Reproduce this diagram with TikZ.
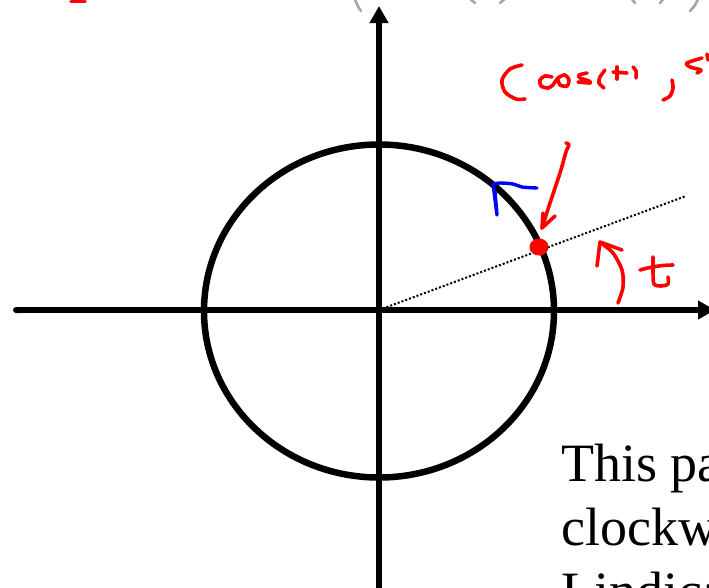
\documentclass[tikz,border=0pt]{standalone}
\usepackage{fontspec}
\setmainfont{Liberation Serif}
\usetikzlibrary{arrows.meta}
\tikzset{
  axis/.style={line width=6pt, -{Triangle[length=17pt,width=18pt]}},
  circ/.style={line width=6.5pt},
  dotline/.style={line width=2pt, dash pattern=on 2pt off 2pt},
  redink/.style={draw=red, line width=3.6pt, line cap=round, line join=round},
  blueink/.style={draw=blue, line width=3.4pt, line cap=round, line join=round},
  grayink/.style={draw=black!35, line width=2.6pt, line cap=round},
  bodytext/.style={inner sep=0pt, anchor=base west, font=\fontsize{54}{64}\selectfont}
}
\begin{document}
\begin{tikzpicture}[x=1pt,y=-1pt]
\useasboundingbox (0,0) rectangle (709,587);
\fill[white] (0,0) rectangle (709,587);
\clip (0,0) rectangle (709,587);
% key points
\coordinate (O) at (379,310);
\coordinate (C) at (379,311);
\coordinate (ytop) at (379,6);
\coordinate (ybot) at (379,592);
\coordinate (xleft) at (13,310);
\coordinate (xright) at (715,310);
\coordinate (rayend) at (686,196);
\coordinate (P) at (539,247);
% axes
\draw[axis] (ybot) -- (ytop);
\draw[axis, {Round Cap}-{Triangle[length=17pt,width=18pt]}] (xleft) -- (xright);
% circle
\draw[circ] (C) ellipse [x radius=175, y radius=166.5];
% dotted ray
\draw[dotline] (O) -- (rayend);
% red point
\fill[red] (P) ellipse [x radius=9.5, y radius=8.5];
% red arrow to point
\draw[redink] plot[smooth] coordinates {(566,143) (569,145) (566,152) (560,173) (550,203) (542,228)};
\draw[redink] (543,213) -- (542,228) -- (555,216);
% blue direction arrow
\draw[blueink] plot[smooth] coordinates {(537,188) (522,187) (513,184) (500,183) (493,184)};
\draw[blueink] (493,184) -- (497,215) -- (495,192);
% red angle arrow
\draw[redink] plot[smooth] coordinates {(618,303) (623,287) (622,270) (613,253) (601,243)};
\draw[redink] (597,266) -- (600,242) -- (622,250);
% handwritten t
\draw[redink] (640,270) .. controls (650,267) and (662,265) .. (673,265);
\draw[redink] plot[smooth] coordinates {(653,257) (653,272) (654,284) (661,286) (668,284) (668,277)};
% handwritten (cos(t), s
\draw[redink] plot[smooth] coordinates {(522,65) (510,69) (502,80) (505,92) (516,99) (525,99)};
\draw[redink] plot[smooth] coordinates {(552,77) (545,76) (540,80) (541,86) (548,88) (553,85)};
\draw[redink] plot[smooth] coordinates {(553,85) (558,78) (565,75) (569,80) (567,86) (560,85) (558,80)};
\draw[redink] plot[smooth] coordinates {(587,73) (579,75) (580,78) (589,81) (590,83) (578,82)};
\draw[redink] plot[smooth] coordinates {(605,70) (600,77) (599,83) (604,88)};
\draw[redink] (617,67) -- (617,79);
\draw[redink] (613,72) -- (627,73);
\draw[redink] plot[smooth] coordinates {(633,67) (636,71) (636,78)};
\draw[redink] plot[smooth] coordinates {(672,80) (673,88) (670,96) (663,100)};
\draw[redink] plot[smooth] coordinates {(702,58) (687,63) (690,67) (701,70) (697,73)};
\draw[redink] (707,54) -- (708,60);
% red fragment top left
\draw[redink] (71,1.5) -- (85,1.5);
\draw[redink] (77,-6) -- (77,1);
% gray fragments at top
\draw[grayink] (354,-4) .. controls (356,3) and (358,7) .. (361,11);
\draw[grayink] (469,-2) -- (475,3);
\draw[grayink] (506,-2) -- (500,3);
\draw[grayink] (631,-2) -- (635,3);
\draw[grayink] (664,-2) -- (660,3);
\draw[grayink] (699,-4) .. controls (697,3) and (694,7) .. (690,11);
% text
\node[bodytext] (l1) at (561,481) {This pa};
\node[bodytext] (l2) at (561,545) {clockw};
\node[bodytext] (l3) at (561,609) {Lindica};
\end{tikzpicture}
\end{document}
